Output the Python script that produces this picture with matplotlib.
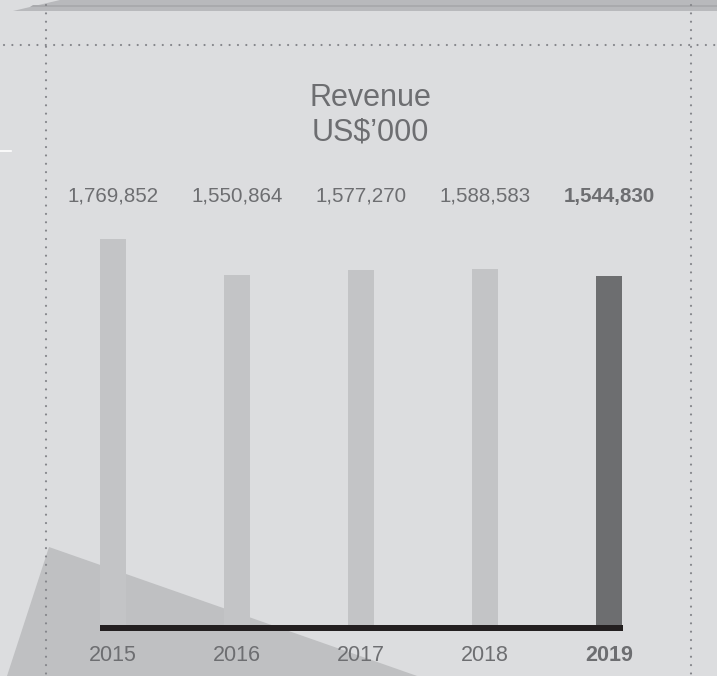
import matplotlib
matplotlib.use("Agg")
import matplotlib.pyplot as plt
from matplotlib.patches import Polygon

plt.rcParams['font.family'] = ['Liberation Sans', 'DejaVu Sans']

years = ["2015", "2016", "2017", "2018", "2019"]
revenue = [1769852, 1550864, 1577270, 1588583, 1544830]
bar_colors = ["#c3c4c6", "#c3c4c6", "#c3c4c6", "#c3c4c6", "#6d6e70"]

BG = "#dcdddf"
TXT = "#6d6e71"
W, H = 717, 676

fig = plt.figure(figsize=(W / 100, H / 100), dpi=100, facecolor=BG)

# background layer in pixel coordinates
bg = fig.add_axes([0, 0, 1, 1], zorder=0)
bg.set_xlim(0, W)
bg.set_ylim(H, 0)
bg.axis("off")
bg.add_patch(Polygon([(60, 0), (W, 0), (W, 11), (13, 11)], closed=True,
                     facecolor="#b8b9bc", edgecolor="none"))
bg.add_patch(Polygon([(33, 4.5), (W, 4.5), (W, 7), (30, 7)], closed=True,
                     facecolor="#a9aaad", edgecolor="none"))
bg.add_patch(Polygon([(49, 547), (440, 684), (0, 684), (0, 676), (7, 676)], closed=True,
                     facecolor="#bfc0c2", edgecolor="none"))
bg.plot([0, 11], [150.5, 150.5], color="white", lw=1.2)

dots = dict(color="#84858a", lw=1.6, ls=(0, (0.01, 3.75)), dash_capstyle="round")
bg.plot([4, W], [45, 45], **dots)
bg.plot([46, 46], [5, H], **dots)
bg.plot([691, 691], [5, H], **dots)

# bar chart
ax = fig.add_axes([51 / W, (H - 631) / H, 620 / W, 431 / H], zorder=1)
ax.patch.set_alpha(0)
px = 1.637e-4          # pixels per US$
base = -589000
ax.set_xlim(-0.5, 4.5)
ax.set_ylim(base - 6 / px, base - 6 / px + 431 / px)
ax.axis("off")

x = range(len(years))
ax.bar(x, [v - base for v in revenue], bottom=base, width=0.21,
       color=bar_colors, linewidth=0)
ax.fill_between([-0.105, 4.11], base - 6 / px, base, color="#231f20", lw=0)

tr = ax.get_xaxis_transform()
for i, (yr, v) in enumerate(zip(years, revenue)):
    weight = "bold" if i == len(years) - 1 else "normal"
    ax.text(i, 0.9961, f"{v:,}", transform=tr, ha="center", va="baseline",
            fontsize=14.8, color=TXT, fontweight=weight, clip_on=False)
    ax.text(i, -0.0689, yr, transform=tr, ha="center", va="baseline",
            fontsize=15.5, color=TXT, fontweight=weight, clip_on=False)

fig.text(370 / W, (H - 106) / H, "Revenue", ha="center", va="baseline",
         fontsize=22, color=TXT)
fig.text(370 / W, (H - 140.7) / H, "US$\u2019000", ha="center", va="baseline",
         fontsize=22, color=TXT)

fig.savefig("out.png", dpi=100, facecolor=BG)
